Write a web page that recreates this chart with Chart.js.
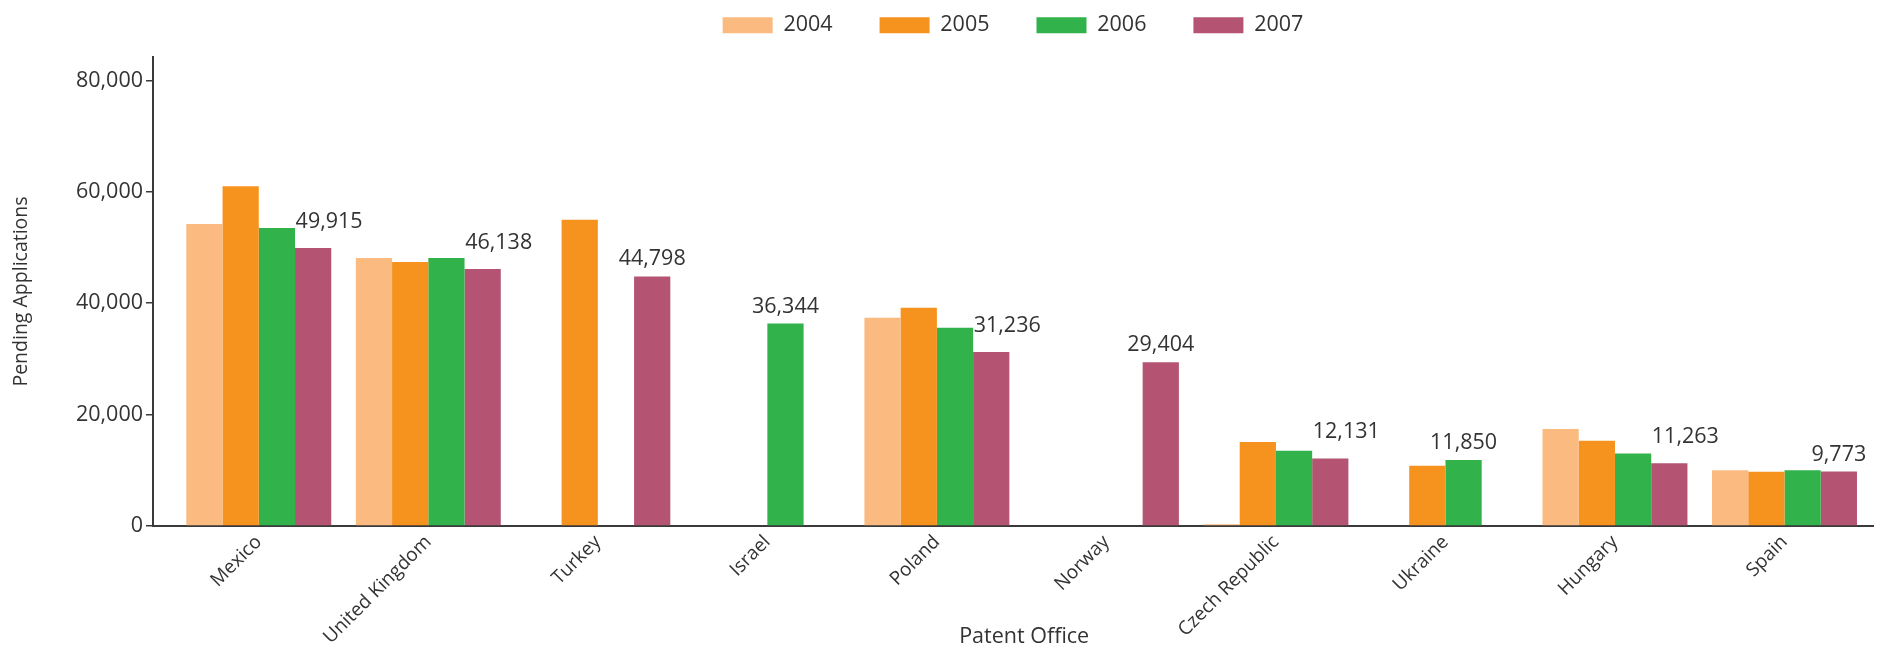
<!DOCTYPE html>
<html>
<head>
<meta charset="utf-8">
<script src="https://cdn.jsdelivr.net/npm/chart.js@4.4.1/dist/chart.umd.min.js"></script>
<style>
  html, body { margin: 0; padding: 0; background: #fff; }
  canvas { display: block; }
</style>
</head>
<body>
<canvas id="chart" width="1881" height="648"></canvas>
<script>
const offices = ['Mexico', 'United Kingdom', 'Turkey', 'Israel', 'Poland', 'Norway', 'Czech Republic', 'Ukraine', 'Hungary', 'Spain'];
const years = ['2004', '2005', '2006', '2007'];
const pending2004 = [54200, 48100, null, null, 37400, null, 300, null, 17400, 10000];
const pending2005 = [61000, 47400, 55000, null, 39200, null, 15100, 10800, 15300, 9750];
const pending2006 = [53500, 48100, null, 36344, 35600, null, 13500, 11850, 13000, 10000];
const pending2007 = [49915, 46138, 44798, null, 31236, 29404, 12131, null, 11263, 9773];
const yTicks = [0, 20000, 40000, 60000, 80000];

const colors = ['#fbba80', '#f6921e', '#31b24b', '#b45472'];
const FONT = '"Open Sans", "DejaVu Sans Condensed", sans-serif';
const TEXT = '#333333';

// label on the last bar of each office, nudged up/right if it would hit the bar before it
const valueLabels = {
  id: 'valueLabels',
  afterDatasetsDraw(chart) {
    const ctx = chart.ctx;
    const sets = chart.data.datasets;
    ctx.save();
    ctx.font = '21.5px ' + FONT;
    ctx.fillStyle = TEXT;
    ctx.textAlign = 'center';
    ctx.textBaseline = 'alphabetic';
    offices.forEach((name, i) => {
      let d = sets.length - 1;
      while (d >= 0 && sets[d].data[i] == null) d--;
      if (d < 0) return;
      const bar = chart.getDatasetMeta(d).data[i];
      const text = sets[d].data[i].toLocaleString('en-US');
      const w = ctx.measureText(text).width;
      let x = bar.x;
      let y = bar.y - 11;
      if (d > 0 && sets[d - 1].data[i] != null) {
        const prev = chart.getDatasetMeta(d - 1).data[i];
        if (x - w / 2 < prev.x + prev.width / 2 && y > prev.y - 6) {
          x += 16;
          y = bar.y - 20;
        }
      }
      ctx.fillText(text, x, y);
    });
    ctx.restore();
  }
};

// a bit more room between legend and plot
const legendGap = {
  id: 'legendGap',
  beforeInit(chart) {
    const fit = chart.legend.fit;
    chart.legend.fit = function () {
      fit.call(this);
      this.height += 11;
    };
  }
};

const pendingData = [pending2004, pending2005, pending2006, pending2007];

const chart = new Chart(document.getElementById('chart'), {
  type: 'bar',
  data: {
    labels: offices,
    datasets: years.map((y, k) => ({
      label: y,
      data: pendingData[k],
      backgroundColor: colors[k],
      borderWidth: 0,
      barPercentage: 1,
      categoryPercentage: 0.855
    }))
  },
  options: {
    responsive: false,
    animation: false,
    layout: { padding: { top: -32.5, right: 8, bottom: 0, left: 0 } },
    plugins: {
      legend: {
        position: 'top',
        fullSize: false,
        labels: {
          boxWidth: 50,
          boxHeight: 16,
          padding: 47,
          color: TEXT,
          font: { family: FONT, size: 21.5 }
        }
      },
      tooltip: { enabled: false }
    },
    scales: {
      x: {
        afterFit: s => { s.height = 122; },
        afterBuildTicks: s => {
          s._startValue -= 0.124;
          s._valueRange += 0.146;
        },
        grid: { display: false, drawTicks: false },
        border: { display: true, color: '#3a3a3a', width: 2 },
        ticks: {
          autoSkip: false,
          minRotation: 45,
          maxRotation: 45,
          padding: 5,
          color: TEXT,
          font: { family: FONT, size: 19 }
        },
        title: {
          display: true,
          text: '    Patent Office',
          color: TEXT,
          padding: { top: 0, bottom: 0 },
          font: { family: FONT, size: 21.5, lineHeight: 1 }
        }
      },
      y: {
        min: 0,
        max: 84200,
        afterFit: s => { s.width = 153; },
        afterBuildTicks: s => {
          s.ticks = yTicks.map(v => ({ value: v }));
        },
        grid: { drawOnChartArea: false, drawTicks: true, tickLength: 7, color: '#3a3a3a', lineWidth: 1.5 },
        border: { display: true, color: '#3a3a3a', width: 2 },
        ticks: {
          padding: 3,
          color: TEXT,
          font: { family: FONT, size: 21.5 },
          callback: v => v.toLocaleString('en-US')
        },
        title: {
          display: true,
          text: 'Pending Applications',
          color: TEXT,
          padding: { top: 10, bottom: 0 },
          font: { family: FONT, size: 19.5 }
        }
      }
    }
  },
  plugins: [valueLabels, legendGap]
});
</script>
</body>
</html>
